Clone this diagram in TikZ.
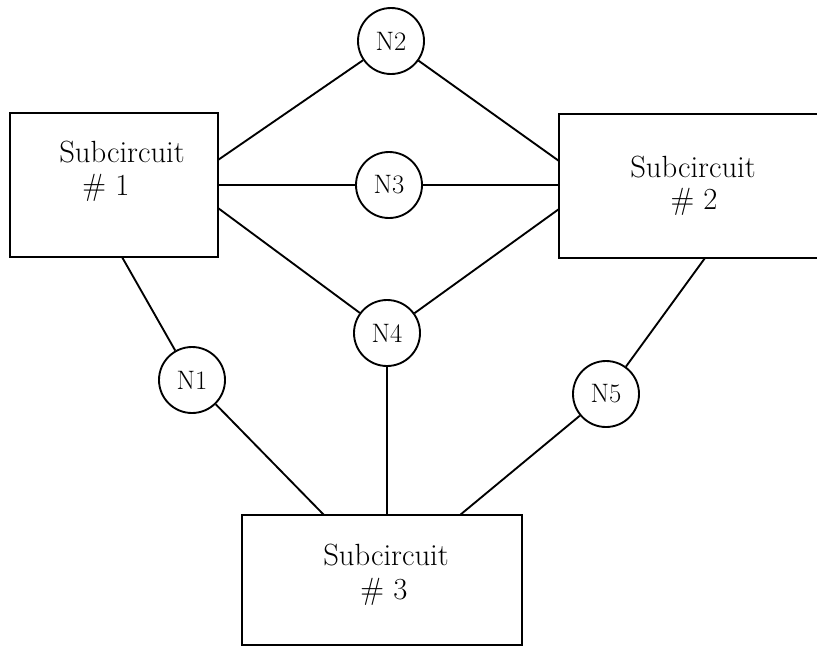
\documentclass[tikz,border=0pt]{standalone}
\begin{document}
\begin{tikzpicture}[x=0.75pt,y=-0.75pt,
  line width=1.4pt,
  every node/.style={font=\fontsize{20}{24}\selectfont},
  subbox/.style={draw, rectangle, inner sep=0pt},
  boxlabel/.style={font=\fontsize{23}{27}\selectfont},
  netnode/.style={draw, circle, minimum size=49.5pt, inner sep=0pt},
  wire/.style={line width=1.4pt}]
  % page frame (the right box runs off the edge)
  \clip (0,0) rectangle (817,647);
  \fill[white] (0,0) rectangle (817,647);

  % subcircuit boxes
  \node[subbox, minimum width=156pt, minimum height=108pt] (b1) at (114,185) {};
  \node[subbox, minimum width=201pt, minimum height=108pt] (b2) at (693,186) {};
  \node[subbox, minimum width=210pt, minimum height=97.5pt] (b3) at (382,580) {};

  % box labels
  \node[boxlabel] (t1a) at (122,152) {Subcircuit};
  \node[boxlabel] (t1b) at (106,188) {\# 1};
  \node[boxlabel] (t2a) at (693,167) {Subcircuit};
  \node[boxlabel] (t2b) at (694,202) {\# 2};
  \node[boxlabel] (t3a) at (386,555) {Subcircuit};
  \node[boxlabel] (t3b) at (384,592) {\# 3};

  % net nodes
  \node[netnode] (n1) at (192,380) {N1};
  \node[netnode] (n2) at (391,41)  {N2};
  \node[netnode] (n3) at (389,185) {N3};
  \node[netnode] (n4) at (387,333) {N4};
  \node[netnode] (n5) at (606,394) {N5};

  % connection points on the box edges
  \coordinate (b1p2) at (218,160);
  \coordinate (b1p3) at (218,185);
  \coordinate (b1p4) at (218,208);
  \coordinate (b1p1) at (122,257);
  \coordinate (b2p2) at (559,161);
  \coordinate (b2p3) at (559,185);
  \coordinate (b2p4) at (559,209);
  \coordinate (b2p5) at (705,258);
  \coordinate (b3p1) at (324,515);
  \coordinate (b3p4) at (387,515);
  \coordinate (b3p5) at (460,515);

  % wiring
  \draw[wire] (b1p2) -- (n2);
  \draw[wire] (n2) -- (b2p2);
  \draw[wire] (b1p3) -- (n3);
  \draw[wire] (n3) -- (b2p3);
  \draw[wire] (b1p4) -- (n4);
  \draw[wire] (n4) -- (b2p4);
  \draw[wire] (b1p1) -- (n1);
  \draw[wire] (n1) -- (b3p1);
  \draw[wire] (n4) -- (b3p4);
  \draw[wire] (b2p5) -- (n5);
  \draw[wire] (n5) -- (b3p5);
\end{tikzpicture}
\end{document}
